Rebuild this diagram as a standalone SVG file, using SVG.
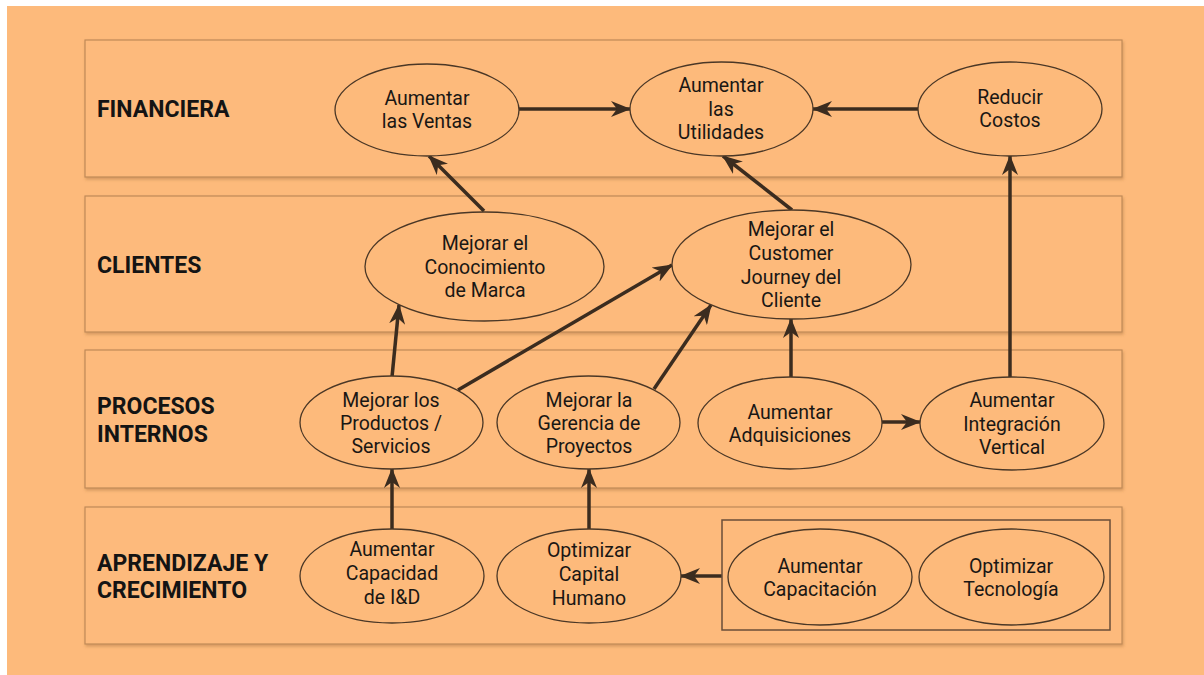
<svg xmlns="http://www.w3.org/2000/svg" width="1204" height="675" viewBox="0 0 1204 675">
  <defs>
    <style>
      .band { fill: #FDBA7B; stroke: #c08a58; stroke-width: 1.2; filter: url(#shadow); }
      .node { fill: #FDBA7B; stroke: #4a3726; stroke-width: 1.3; }
      .lbl { font-family: Roboto, "Liberation Sans", sans-serif; font-weight: bold; font-size: 23px; fill: #141414; }
      .txt { font-family: Roboto, "Liberation Sans", sans-serif; font-size: 19.5px; fill: #1a1714; text-anchor: middle; }
      .edge { stroke: #3b2c1f; stroke-width: 3.5; fill: none; marker-end: url(#arrow); }
      .group { fill: none; stroke: #6a4e38; stroke-width: 1.5; }
    </style>
    <filter id="shadow" x="-5%" y="-10%" width="110%" height="125%">
      <feDropShadow dx="1" dy="2" stdDeviation="1.5" flood-color="#8a5a2a" flood-opacity="0.35"/>
    </filter>
    <marker id="arrow" viewBox="0 0 20 16" markerWidth="20" markerHeight="16" refX="19" refY="8" orient="auto" markerUnits="userSpaceOnUse">
      <path d="M0,0 L20,8 L0,16 L6,8 z" fill="#3b2c1f"/>
    </marker>
  </defs>

  <!-- page -->
  <rect x="0" y="0" width="1204" height="675" fill="#ffffff"/>
  <rect x="7" y="6" width="1197" height="669" fill="#FDBA7B"/>

  <!-- perspective bands -->
  <g id="band-financiera">
    <rect class="band" x="85" y="40" width="1037" height="137"/>
    <text class="lbl" x="97" y="117">FINANCIERA</text>
  </g>
  <g id="band-clientes">
    <rect class="band" x="85" y="196" width="1037" height="136"/>
    <text class="lbl" x="97" y="273">CLIENTES</text>
  </g>
  <g id="band-procesos">
    <rect class="band" x="85" y="350" width="1037" height="138"/>
    <text class="lbl" x="97" y="414">PROCESOS</text>
    <text class="lbl" x="97" y="442">INTERNOS</text>
  </g>
  <g id="band-aprendizaje">
    <rect class="band" x="85" y="507" width="1037" height="137"/>
    <text class="lbl" x="97" y="571">APRENDIZAJE Y</text>
    <text class="lbl" x="97" y="598">CRECIMIENTO</text>
  </g>

  <!-- connectors -->
  <g id="connectors">
    <line class="edge" x1="519" y1="109" x2="630" y2="109"/>
    <line class="edge" x1="918" y1="109" x2="813" y2="109"/>
    <line class="edge" x1="484" y1="211" x2="429" y2="156"/>
    <line class="edge" x1="792" y1="210" x2="723" y2="156"/>
    <line class="edge" x1="1010" y1="377" x2="1010" y2="156"/>
    <line class="edge" x1="392" y1="377" x2="399" y2="305"/>
    <line class="edge" x1="458" y1="390" x2="672" y2="265"/>
    <line class="edge" x1="654" y1="389" x2="711" y2="305"/>
    <line class="edge" x1="791" y1="377" x2="791" y2="319"/>
    <line class="edge" x1="882" y1="422" x2="920" y2="422"/>
    <line class="edge" x1="392" y1="529" x2="392" y2="469"/>
    <line class="edge" x1="589" y1="529" x2="589" y2="469"/>
    <line class="edge" x1="722" y1="576" x2="681" y2="576"/>
  </g>

  <!-- financial objectives -->
  <g id="aumentar-ventas">
    <ellipse class="node" cx="427" cy="110" rx="92" ry="46"/>
    <text class="txt" x="427" y="105">Aumentar</text>
    <text class="txt" x="427" y="128">las Ventas</text>
  </g>
  <g id="aumentar-utilidades">
    <ellipse class="node" cx="721.5" cy="109" rx="91.5" ry="47"/>
    <text class="txt" x="721" y="92">Aumentar</text>
    <text class="txt" x="721" y="116">las</text>
    <text class="txt" x="721" y="139">Utilidades</text>
  </g>
  <g id="reducir-costos">
    <ellipse class="node" cx="1010" cy="109" rx="92" ry="47"/>
    <text class="txt" x="1010" y="104">Reducir</text>
    <text class="txt" x="1010" y="127">Costos</text>
  </g>

  <!-- customer objectives -->
  <g id="conocimiento-marca">
    <ellipse class="node" cx="484.5" cy="266.5" rx="119.5" ry="54.5"/>
    <text class="txt" x="485" y="250">Mejorar el</text>
    <text class="txt" x="485" y="274">Conocimiento</text>
    <text class="txt" x="485" y="297">de Marca</text>
  </g>
  <g id="customer-journey">
    <ellipse class="node" cx="791.5" cy="264.5" rx="119.5" ry="54.5"/>
    <text class="txt" x="791" y="236">Mejorar el</text>
    <text class="txt" x="791" y="260">Customer</text>
    <text class="txt" x="791" y="284">Journey del</text>
    <text class="txt" x="791" y="307">Cliente</text>
  </g>

  <!-- internal process objectives -->
  <g id="productos-servicios">
    <ellipse class="node" cx="391.5" cy="422.5" rx="91.5" ry="46.5"/>
    <text class="txt" x="391" y="407">Mejorar los</text>
    <text class="txt" x="391" y="430">Productos /</text>
    <text class="txt" x="391" y="453">Servicios</text>
  </g>
  <g id="gerencia-proyectos">
    <ellipse class="node" cx="588.5" cy="422.5" rx="91.5" ry="46.5"/>
    <text class="txt" x="589" y="407">Mejorar la</text>
    <text class="txt" x="589" y="430">Gerencia de</text>
    <text class="txt" x="589" y="453">Proyectos</text>
  </g>
  <g id="aumentar-adquisiciones">
    <ellipse class="node" cx="790" cy="423" rx="92" ry="46"/>
    <text class="txt" x="790" y="419">Aumentar</text>
    <text class="txt" x="790" y="442">Adquisiciones</text>
  </g>
  <g id="integracion-vertical">
    <ellipse class="node" cx="1012" cy="423.5" rx="92" ry="46.5"/>
    <text class="txt" x="1012" y="407">Aumentar</text>
    <text class="txt" x="1012" y="431">Integración</text>
    <text class="txt" x="1012" y="454">Vertical</text>
  </g>

  <!-- learning and growth objectives -->
  <g id="capacidad-id">
    <ellipse class="node" cx="392" cy="576" rx="92" ry="47"/>
    <text class="txt" x="392" y="556">Aumentar</text>
    <text class="txt" x="392" y="580">Capacidad</text>
    <text class="txt" x="392" y="604">de I&amp;D</text>
  </g>
  <g id="capital-humano">
    <ellipse class="node" cx="589" cy="576" rx="92" ry="47"/>
    <text class="txt" x="589" y="557">Optimizar</text>
    <text class="txt" x="589" y="581">Capital</text>
    <text class="txt" x="589" y="605">Humano</text>
  </g>
  <g id="habilitadores">
    <rect class="group" x="722" y="520" width="388" height="110"/>
  </g>
  <g id="aumentar-capacitacion">
    <ellipse class="node" cx="820" cy="577" rx="92" ry="48"/>
    <text class="txt" x="820" y="573">Aumentar</text>
    <text class="txt" x="820" y="596">Capacitación</text>
  </g>
  <g id="optimizar-tecnologia">
    <ellipse class="node" cx="1011.5" cy="577" rx="92.5" ry="48"/>
    <text class="txt" x="1011" y="573">Optimizar</text>
    <text class="txt" x="1011" y="596">Tecnología</text>
  </g>
</svg>
